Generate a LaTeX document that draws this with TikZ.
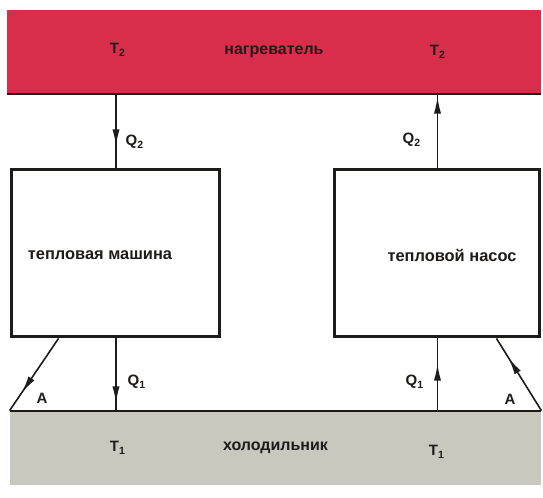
\documentclass[tikz,border=0pt]{standalone}
\usepackage{fontspec}
\setmainfont{Liberation Sans}
\usepackage{tikz}
\usetikzlibrary{positioning, arrows.meta, calc, decorations.markings}
\definecolor{hotred}{RGB}{216, 46, 76}
\definecolor{coldgray}{RGB}{201, 200, 190}
\definecolor{ink}{RGB}{30, 28, 26}
\tikzset{
  band/.style={
    draw=none, inner sep=0pt, text=ink,
    font=\fontsize{8}{9}\selectfont\bfseries,
  },
  machine/.style={draw=ink, line width=1.5pt, fill=white, inner sep=0pt},
  lbl/.style={font=\fontsize{7.5}{9}\selectfont\bfseries, text=ink, inner sep=1pt},
  boxtxt/.style={font=\fontsize{8.2}{9}\selectfont\bfseries, text=ink, inner sep=1pt},
  edge/.style={draw=ink, line width=1pt},
  flow/.style={
    draw=ink, line width=0.8pt, postaction={decorate},
    decoration={markings,
      mark=at position #1 with {\arrow{Latex[length=8.5pt, width=3.6pt]}}},
  },
}

\begin{document}
\begin{tikzpicture}[x=0.5pt, y=-0.5pt, >=Stealth]

\useasboundingbox (0,0) rectangle (543,498);

\node[band, fill=hotred, minimum width=267pt, minimum height=42pt] (hot) at (274,52) {нагреватель};
\node[band, fill=coldgray, minimum width=265.5pt, minimum height=37pt] (cold) at (275.5,448) {холодильник};
\draw[edge] (hot.south west) -- (hot.south east);
\draw[edge] (cold.north west) -- (cold.north east);

\node[machine, minimum width=104pt, minimum height=83.5pt] (engine) at (116,253.5) {};
\node[machine, minimum width=102.5pt, minimum height=83.5pt] (pump) at (437.5,253.5) {};
\node[boxtxt] (engtxt) at (100,255) {тепловая машина};
\node[boxtxt] (pumptxt) at (452,255) {тепловой насос};

\coordinate (engA) at ($(engine.south west)+(48,0)$);
\coordinate (pumpA) at ($(pump.south east)+(-45,0)$);

\node[lbl] (t2l) at (118,50) {T\textsubscript{2}};
\node[lbl] (t2r) at (438,52) {T\textsubscript{2}};
\node[lbl] (t1l) at (118,448) {T\textsubscript{1}};
\node[lbl] (t1r) at (437,452) {T\textsubscript{1}};
\node[lbl] (q2l) at (135,142) {Q\textsubscript{2}};
\node[lbl] (q2r) at (412,140) {Q\textsubscript{2}};
\node[lbl] (q1l) at (137,382) {Q\textsubscript{1}};
\node[lbl] (q1r) at (415,382) {Q\textsubscript{1}};
\node[lbl] (al) at (42,398) {A};
\node[lbl] (ar) at (510,399) {A};

\draw[flow=0.7] (hot.south -| engine.north) -- (engine.north);
\draw[flow=0.9] (engine.south) -- (cold.north -| engine.south);
\draw[flow=0.65] (cold.north -| pump.south) -- (pump.south);
\draw[flow=0.97] (pump.north) -- (hot.south -| pump.north);
\draw[flow=0.75] (engA) -- (cold.north west);
\draw[flow=0.73] (cold.north east) -- (pumpA);

\end{tikzpicture}
\end{document}
